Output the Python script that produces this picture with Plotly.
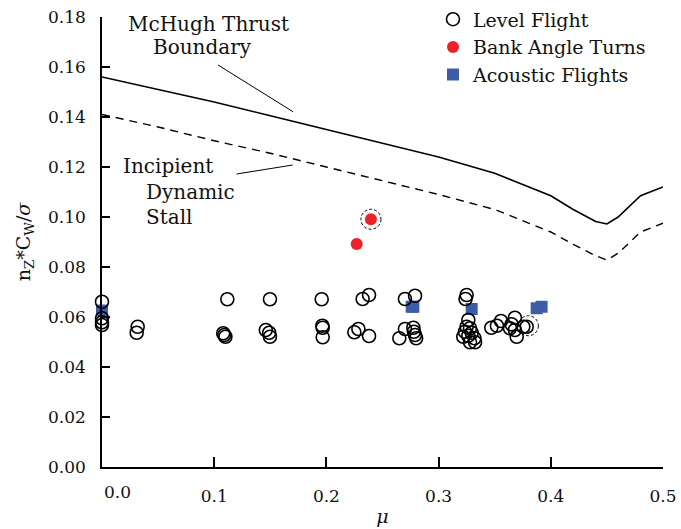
import plotly.graph_objects as go

# Boundary curves (advance ratio mu vs. blade loading)
mu_curve = [0.0, 0.05, 0.10, 0.15, 0.20, 0.25, 0.30, 0.35, 0.40, 0.42, 0.44, 0.45, 0.46, 0.48, 0.50]
mchugh = [0.156, 0.151, 0.146, 0.1405, 0.135, 0.1295, 0.124, 0.1175, 0.1085, 0.103, 0.0982, 0.0972, 0.100, 0.1085, 0.112]
stall = [0.141, 0.136, 0.1305, 0.1255, 0.120, 0.1145, 0.109, 0.103, 0.094, 0.089, 0.0845, 0.0828, 0.0855, 0.094, 0.0975]

# Level flight test points
level_mu = [0.0, 0.0, 0.0, 0.0, 0.0318, 0.0309,
            0.1117, 0.108, 0.109, 0.110,
            0.1497, 0.146, 0.149, 0.1497,
            0.1958, 0.1964, 0.1967, 0.1967,
            0.2323, 0.238, 0.2249, 0.2285, 0.238,
            0.270, 0.279, 0.265, 0.270, 0.2775, 0.278, 0.279, 0.280,
            0.325, 0.324, 0.3265, 0.325, 0.328, 0.3235, 0.3295, 0.322, 0.3265, 0.332, 0.328, 0.3325,
            0.347, 0.3556, 0.368, 0.365, 0.3636, 0.3696, 0.368, 0.3755, 0.3785, 0.352]
level_cw = [0.0661, 0.0595, 0.0579, 0.0568, 0.0561, 0.0537,
            0.0671, 0.0535, 0.0528, 0.0521,
            0.0671, 0.0548, 0.0537, 0.0521,
            0.0671, 0.0565, 0.0557, 0.0519,
            0.0672, 0.0688, 0.0539, 0.0552, 0.0524,
            0.0672, 0.0685, 0.0515, 0.0552, 0.0557, 0.0541, 0.0528, 0.0515,
            0.0688, 0.0672, 0.0588, 0.0561, 0.0555, 0.0541, 0.0537, 0.0521, 0.0525, 0.0515, 0.0499, 0.0499,
            0.0557, 0.0584, 0.0597, 0.0571, 0.0555, 0.0521, 0.0548, 0.0561, 0.0561, 0.0565]

# Bank angle turns
bank_mu = [0.2397, 0.227]
bank_cw = [0.0991, 0.0892]

# Acoustic flights
acou_mu = [0.0, 0.276, 0.2775, 0.3295, 0.3874, 0.3918]
acou_cw = [0.0626, 0.0641, 0.0641, 0.0632, 0.0635, 0.0641]

# Highlighted points (dashed rings)
ring_mu = [0.2397, 0.380]
ring_cw = [0.0991, 0.0565]

FONT = "DejaVu Serif"
INK = "#111"

fig = go.Figure()

fig.add_trace(go.Scatter(x=mu_curve, y=mchugh, mode="lines", showlegend=False,
                         line=dict(color="black", width=1.6), hoverinfo="skip"))
fig.add_trace(go.Scatter(x=mu_curve, y=stall, mode="lines", showlegend=False,
                         line=dict(color="black", width=1.4, dash="8px,6px"), hoverinfo="skip"))

fig.add_trace(go.Scatter(x=acou_mu, y=acou_cw, mode="markers", name="Acoustic Flights",
                         marker=dict(symbol="square", size=12, color="#3c5ca8"),
                         cliponaxis=False, legendrank=3))
fig.add_trace(go.Scatter(x=level_mu, y=level_cw, mode="markers", name="Level Flight",
                         marker=dict(symbol="circle-open", size=13, color="black",
                                     line=dict(width=1.6, color="black")),
                         cliponaxis=False, legendrank=1))
fig.add_trace(go.Scatter(x=bank_mu, y=bank_cw, mode="markers", name="Bank Angle Turns",
                         marker=dict(symbol="circle", size=12, color="#ee2028"),
                         cliponaxis=False, legendrank=2))

shapes = []
for xm, ym in zip(ring_mu, ring_cw):
    shapes.append(dict(type="circle", xref="x", yref="y", xsizemode="pixel", ysizemode="pixel",
                       xanchor=xm, yanchor=ym, x0=-10, x1=10, y0=-10, y1=10,
                       line=dict(color="black", width=1, dash="3px,2px")))
# pointer lines from labels to curves
shapes.append(dict(type="line", xref="x", yref="y", x0=0.1034, y0=0.1608, x1=0.1703, y1=0.1421,
                   line=dict(color="black", width=1)))
shapes.append(dict(type="line", xref="x", yref="y", x0=0.120, y0=0.1172, x1=0.170, y1=0.1208,
                   line=dict(color="black", width=1)))

annos = []
def label(text, x, y):
    annos.append(dict(text=text, x=x, y=y, xref="x", yref="y", xanchor="left", yanchor="middle",
                      showarrow=False, font=dict(family=FONT, size=20, color=INK)))
label("McHugh Thrust", 0.0213, 0.1772)
label("Boundary", 0.0436, 0.168)
label("Incipient", 0.0168, 0.1204)
label("Dynamic", 0.0373, 0.110)
label("Stall", 0.0373, 0.100)
# x-axis origin label, set slightly off the corner
annos.append(dict(text="0.0", x=0.0135, y=0, xref="x", yref="y", yshift=-25, xanchor="center",
                  yanchor="middle", showarrow=False, font=dict(family=FONT, size=17, color=INK)))

fig.update_layout(
    width=681, height=529,
    margin=dict(l=102, r=18, t=17, b=62, autoexpand=False),
    paper_bgcolor="white", plot_bgcolor="white",
    font=dict(family=FONT, size=17, color=INK),
    shapes=shapes, annotations=annos,
    legend=dict(x=0.59, y=1.037, xanchor="left", yanchor="top", bgcolor="rgba(0,0,0,0)",
                font=dict(family=FONT, size=19, color=INK), tracegroupgap=0),
    xaxis=dict(range=[0, 0.5], showgrid=False, zeroline=False, showline=True, linecolor="black",
               linewidth=1.5, ticks="inside", ticklen=10, tickwidth=1.5, tickcolor="black",
               tickvals=[0.1, 0.2, 0.3, 0.4, 0.5], ticktext=["0.1", "0.2", "0.3", "0.4", "0.5"],
               ticklabelstandoff=13, automargin=False,
               title=dict(text="<i>μ</i>", standoff=5, font=dict(family=FONT, size=19))),
    yaxis=dict(range=[0, 0.18], showgrid=False, zeroline=False, showline=True, linecolor="black",
               linewidth=1.5, ticks="inside", ticklen=8, tickwidth=1.5, tickcolor="black",
               tickvals=[0, 0.02, 0.04, 0.06, 0.08, 0.10, 0.12, 0.14, 0.16, 0.18],
               tickformat=".2f", ticklabelstandoff=11, automargin=False,
               title=dict(text="n<sub>Z</sub>*C<sub>W</sub>/<i>σ</i>", standoff=12,
                          font=dict(family=FONT, size=19))),
)

fig.write_html("out.html")
